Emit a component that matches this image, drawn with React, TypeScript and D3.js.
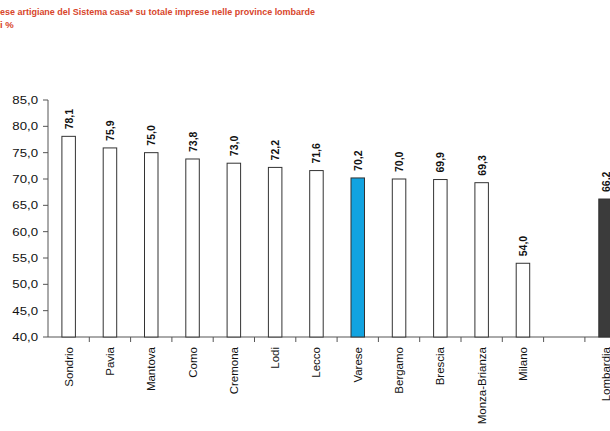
import React from "react";
import * as d3 from "d3";

const categories = ["Sondrio", "Pavia", "Mantova", "Como", "Cremona", "Lodi", "Lecco", "Varese", "Bergamo", "Brescia", "Monza-Brianza", "Milano", " ", "Lombardia"];
const values: (number | null)[] = [78.1, 75.9, 75.0, 73.8, 73.0, 72.2, 71.6, 70.2, 70.0, 69.9, 69.3, 54.0, null, 66.2];
const yTicks = [40, 45, 50, 55, 60, 65, 70, 75, 80, 85];
const titleLines = ["ese artigiane del Sistema casa* su totale imprese nelle province lombarde", "i %"];

const W = 610;
const H = 431;
const left = 48;
const slot = 41.3;
const top = 100;
const bottom = 337;

const fmt = (v: number) => v.toFixed(1).replace(".", ",");

export default function App() {
  const x = d3.scaleBand<string>().domain(categories).range([left, left + slot * categories.length]).padding(0);
  const y = d3.scaleLinear().domain([40, 85]).range([bottom, top]);
  const bw = 13.5;
  const fillFor = (c: string) => (c === "Varese" ? "#12a3e0" : c === "Lombardia" ? "#3b3b3b" : "#ffffff");
  const axisColor = "#555";
  const boundaries = d3.range(1, categories.length + 1).map((k) => left + k * x.step());

  return (
    <div style={{ position: "absolute", left: 0, top: 0 }}>
      <svg width={W} height={H} style={{ display: "block", background: "#fff" }} fontFamily="Arial, 'Liberation Sans', sans-serif">
        <text x={0} y={15} fontSize={9.5} fontWeight="bold" fill="#d8452b" textLength={315} lengthAdjust="spacingAndGlyphs">{titleLines[0]}</text>
        <text x={0} y={28} fontSize={9.5} fontWeight="bold" fill="#d8452b">{titleLines[1]}</text>

        {/* y axis */}
        <line x1={left} x2={left} y1={top} y2={bottom} stroke={axisColor} strokeWidth={1} />
        {yTicks.map((t) => (
          <g key={t}>
            <line x1={left - 5} x2={left} y1={y(t)} y2={y(t)} stroke={axisColor} />
            <text transform={`translate(${left - 10},${y(t) + 4}) scale(1.2,1)`} textAnchor="end" fontSize={11} fill="#111">{fmt(t)}</text>
          </g>
        ))}

        {/* x axis */}
        <line x1={left} x2={W} y1={bottom} y2={bottom} stroke={axisColor} strokeWidth={1} />
        {boundaries.map((b, i) => (
          <line key={i} x1={b} x2={b} y1={bottom} y2={bottom + 5} stroke={axisColor} />
        ))}

        {/* bars */}
        {categories.map((c, i) => {
          const v = values[i];
          if (v == null) return null;
          const cx = (x(c) as number) + x.bandwidth() / 2;
          return (
            <g key={c}>
              <rect x={cx - bw / 2} y={y(v)} width={bw} height={bottom - y(v)} fill={fillFor(c)} stroke="#333" strokeWidth={1} />
              <text transform={`translate(${cx + 4},${y(v) - 7}) rotate(-90)`} fontSize={10.5} fontWeight="bold" fill="#111">{fmt(v)}</text>
            </g>
          );
        })}

        {/* category labels */}
        {categories.map((c) =>
          c.trim() === "" ? null : (
            <text key={"l" + c} transform={`translate(${(x(c) as number) + x.bandwidth() / 2 + 4},${bottom + 10}) rotate(-90)`} textAnchor="end" fontSize={11.5} fill="#111">{c}</text>
          )
        )}
      </svg>
    </div>
  );
}
